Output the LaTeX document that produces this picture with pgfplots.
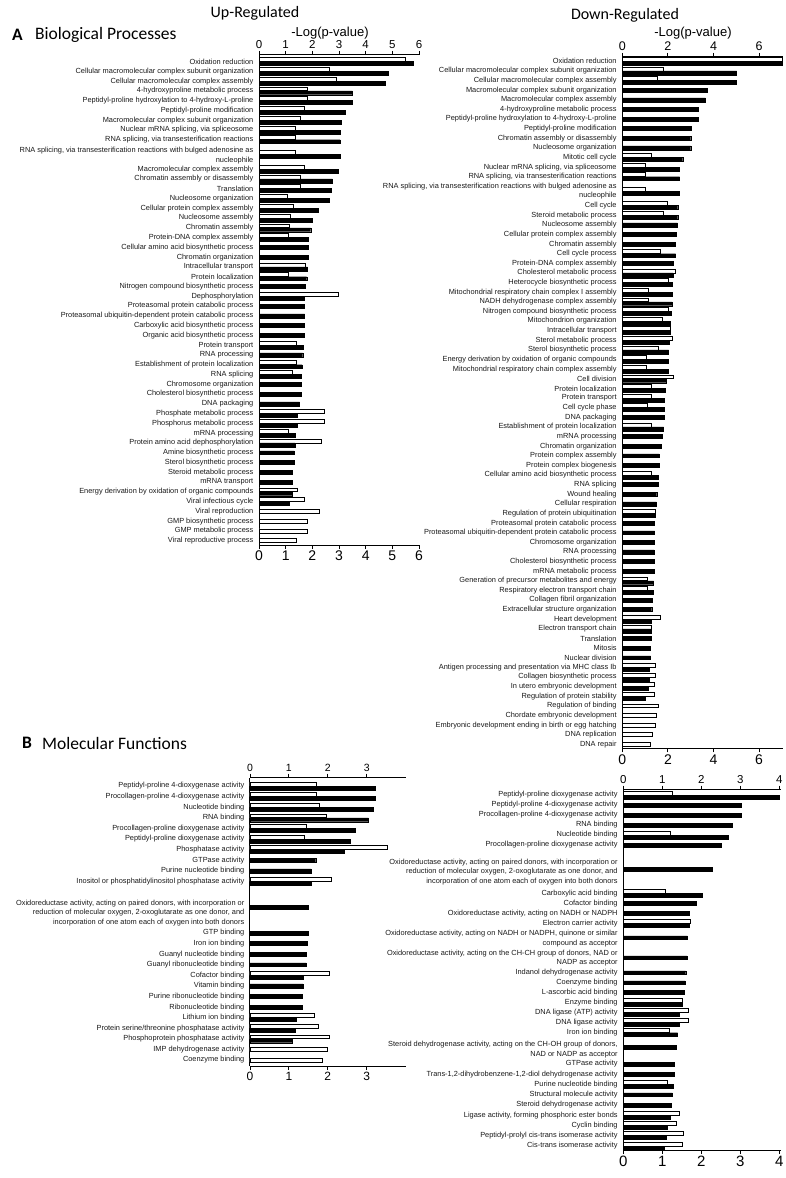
\documentclass[border=0pt]{standalone}
\usepackage{fontspec}
\setmainfont{Liberation Sans}
\newfontfamily\calibri{Carlito}
\usepackage{pgfplots}
\pgfplotsset{compat=1.18}
\pgfplotsset{
  go/.style={scale only axis, clip=false, axis x line*=bottom, axis y line*=left,
    tick align=outside, major tick length=4pt, ytick style={draw=none},
    axis line style={line width=1pt, black}, x tick style={line width=0.9pt, black},
    /pgf/number format/assume math mode=true,
    yticklabel style={font=\fontsize{7.4}{9.4}\selectfont, align=right, text=black!90, inner sep=0pt, xshift=-1.5pt},
    xticklabel style={inner sep=2pt}},
  gotop/.style={scale only axis, axis x line*=top, axis y line=none,
    tick align=outside, major tick length=4pt, ytick=\empty,
    axis line style={line width=1pt, black}, x tick style={line width=0.9pt, black},
    /pgf/number format/assume math mode=true, xticklabel style={inner sep=2pt}},
  wp/.style={xbar, bar width=3.9, bar shift=1.95, fill=white, draw=black, line width=0.7pt},
  bp/.style={xbar, bar width=3.9, bar shift=-1.95, fill=black, draw=black, line width=0.4pt},
  wo/.style={xbar, bar width=3.9, bar shift=0, fill=white, draw=black, line width=0.7pt},
  bo/.style={xbar, bar width=3.9, bar shift=0, fill=black, draw=black, line width=0.4pt},
}
\begin{document}
\begin{tikzpicture}
\path[use as bounding box] (0,0) rectangle (786pt,-1178pt);
% ---------- titles
\node[font=\calibri\fontsize{16}{16}\selectfont] at (255pt,-13pt) {Up-Regulated};
\node[font=\fontsize{13}{13}\selectfont] at (330pt,-33pt) {-Log(p-value)};
\node[font=\calibri\bfseries\fontsize{17.5}{17.5}\selectfont, anchor=west, inner sep=0pt] at (12pt,-35pt) {A};
\node[font=\calibri\fontsize{17.5}{17.5}\selectfont, anchor=west, inner sep=0pt] at (35pt,-35pt) {Biological Processes};
\node[font=\calibri\fontsize{16}{16}\selectfont] at (625pt,-15pt) {Down-Regulated};
\node[font=\fontsize{13}{13}\selectfont] at (693pt,-33pt) {-Log(p-value)};
\node[font=\calibri\bfseries\fontsize{17.5}{17.5}\selectfont, anchor=west, inner sep=0pt] at (22pt,-743pt) {B};
\node[font=\calibri\fontsize{17.5}{17.5}\selectfont, anchor=west, inner sep=0pt] at (42pt,-743pt) {Molecular Functions};

% ---------- A up
\begin{axis}[go, width=160pt, height=490pt, at={(259pt,-55pt)}, anchor=north west,
  xmin=0, xmax=6, ymin=-545, ymax=-55, xtick={0,...,6},
  xticklabel style={font=\fontsize{14}{14}\selectfont},
  ytick={-61.5,-71.3,-81.1,-90.8,-100.6,-110.4,-120.2,-130,-139.7,-155.5,-169.1,-178.9,-188.6,-198.4,-208.2,-218,-227.8,-237.5,-247.3,-257.1,-266.9,-276.7,-286.4,-296.2,-306,-315.8,-325.6,-335.3,-345.1,-354.9,-364.7,-374.5,-384.2,-394,-403.8,-413.6,-423.4,-433.1,-442.9,-452.7,-462.5,-472.3,-482,-491.8,-501.6,-511.4,-521.2,-530.9,-540.7},
  yticklabels={{Oxidation reduction},{Cellular macromolecular complex subunit organization},{Cellular macromolecular complex assembly},{4-hydroxyproline metabolic process},{Peptidyl-proline hydroxylation to 4-hydroxy-L-proline},{Peptidyl-proline modification},{Macromolecular complex subunit organization},{Nuclear mRNA splicing, via spliceosome},{RNA splicing, via transesterification reactions},{RNA splicing, via transesterification reactions with bulged adenosine as\\nucleophile},{Macromolecular complex assembly},{Chromatin assembly or disassembly},{Translation},{Nucleosome organization},{Cellular protein complex assembly},{Nucleosome assembly},{Chromatin assembly},{Protein-DNA complex assembly},{Cellular amino acid biosynthetic process},{Chromatin organization},{Intracellular transport},{Protein localization},{Nitrogen compound biosynthetic process},{Dephosphorylation},{Proteasomal protein catabolic process},{Proteasomal ubiquitin-dependent protein catabolic process},{Carboxylic acid biosynthetic process},{Organic acid biosynthetic process},{Protein transport},{RNA processing},{Establishment of protein localization},{RNA splicing},{Chromosome organization},{Cholesterol biosynthetic process},{DNA packaging},{Phosphate metabolic process},{Phosphorus metabolic process},{mRNA processing},{Protein amino acid dephosphorylation},{Amine biosynthetic process},{Sterol biosynthetic process},{Steroid metabolic process},{mRNA transport},{Energy derivation by oxidation of organic compounds},{Viral infectious cycle},{Viral reproduction},{GMP biosynthetic process},{GMP metabolic process},{Viral reproductive process}}]
\addplot[wp] coordinates {(5.5,-61.5) (2.65,-71.3) (2.9,-81.1) (1.8,-90.8) (1.8,-100.6) (1.7,-110.4) (1.56,-120.2) (1.36,-130) (1.36,-139.7) (1.36,-154.4) (1.7,-169.1) (1.56,-178.9) (1.56,-188.6) (1.06,-198.4) (1.3,-208.2) (1.16,-218) (1.14,-227.8) (1.1,-237.5) (1.74,-266.9) (1.1,-276.7) (2.97,-296.2) (1.41,-345.1) (1.39,-364.7) (1.24,-374.5) (2.45,-413.6) (2.45,-423.4) (1.09,-433.1) (2.32,-442.9) (1.42,-491.8) (1.7,-501.6)};
\addplot[bp] coordinates {(5.8,-61.5) (4.85,-71.3) (4.72,-81.1) (3.5,-90.8) (3.5,-100.6) (3.24,-110.4) (3.1,-120.2) (3.04,-130) (3.04,-139.7) (3.04,-154.4) (2.98,-169.1) (2.75,-178.9) (2.7,-188.6) (2.62,-198.4) (2.22,-208.2) (2.0,-218) (1.94,-227.8) (1.86,-237.5) (1.81,-266.9) (1.79,-276.7) (1.71,-296.2) (1.67,-345.1) (1.62,-364.7) (1.6,-374.5) (1.44,-413.6) (1.44,-423.4) (1.35,-433.1) (1.35,-442.9) (1.24,-491.8) (1.15,-501.6)};
\addplot[bo] coordinates {(1.85,-247.3) (1.85,-257.1) (1.75,-286.4) (1.71,-306) (1.71,-315.8) (1.69,-325.6) (1.69,-335.3) (1.64,-354.9) (1.59,-384.2) (1.57,-394) (1.52,-403.8) (1.32,-452.7) (1.32,-462.5) (1.26,-472.3) (1.25,-482)};
\addplot[wo] coordinates {(2.25,-511.4) (1.82,-521.2) (1.82,-530.9) (1.4,-540.7)};
\end{axis}
\begin{axis}[gotop, width=160pt, height=490pt, at={(259pt,-55pt)}, anchor=north west,
  xmin=0, xmax=6, ymin=-545, ymax=-55, xtick={0,...,6},
  xticklabel style={font=\fontsize{11.5}{11.5}\selectfont}]
\addplot[draw=none] coordinates {(0,-100)};
\end{axis}

% ---------- A down
\begin{axis}[go, width=160.3pt, height=691.3pt, at={(622.3pt,-57pt)}, anchor=north west,
  xmin=0, xmax=7.03, ymin=-748.3, ymax=-57, xtick={0,2,4,6},
  xticklabel style={font=\fontsize{14}{14}\selectfont},
  ytick={-61.3,-70.9,-80.5,-90.2,-99.8,-109.4,-119,-128.6,-138.3,-147.9,-157.5,-167.1,-176.7,-191.2,-205.6,-215.2,-224.8,-234.5,-244.1,-253.7,-263.3,-272.9,-282.6,-292.2,-301.8,-311.4,-321,-330.7,-340.3,-349.9,-359.5,-369.1,-378.8,-388.4,-398,-407.6,-417.2,-426.9,-436.5,-446.1,-455.7,-465.3,-475,-484.6,-494.2,-503.8,-513.4,-523.1,-532.7,-542.3,-551.9,-561.5,-571.2,-580.8,-590.4,-600,-609.6,-619.3,-628.9,-638.5,-648.1,-657.7,-667.4,-677,-686.6,-696.2,-705.8,-715.5,-725.1,-734.7,-744.3},
  yticklabels={{Oxidation reduction},{Cellular macromolecular complex subunit organization},{Cellular macromolecular complex assembly},{Macromolecular complex subunit organization},{Macromolecular complex assembly},{4-hydroxyproline metabolic process},{Peptidyl-proline hydroxylation to 4-hydroxy-L-proline},{Peptidyl-proline modification},{Chromatin assembly or disassembly},{Nucleosome organization},{Mitotic cell cycle},{Nuclear mRNA splicing, via spliceosome},{RNA splicing, via transesterification reactions},{RNA splicing, via transesterification reactions with bulged adenosine as\\nucleophile},{Cell cycle},{Steroid metabolic process},{Nucleosome assembly},{Cellular protein complex assembly},{Chromatin assembly},{Cell cycle process},{Protein-DNA complex assembly},{Cholesterol metabolic process},{Heterocycle biosynthetic process},{Mitochondrial respiratory chain complex I assembly},{NADH dehydrogenase complex assembly},{Nitrogen compound biosynthetic process},{Mitochondrion organization},{Intracellular transport},{Sterol metabolic process},{Sterol biosynthetic process},{Energy derivation by oxidation of organic compounds},{Mitochondrial respiratory chain complex assembly},{Cell division},{Protein localization},{Protein transport},{Cell cycle phase},{DNA packaging},{Establishment of protein localization},{mRNA processing},{Chromatin organization},{Protein complex assembly},{Protein complex biogenesis},{Cellular amino acid biosynthetic process},{RNA splicing},{Wound healing},{Cellular respiration},{Regulation of protein ubiquitination},{Proteasomal protein catabolic process},{Proteasomal ubiquitin-dependent protein catabolic process},{Chromosome organization},{RNA processing},{Cholesterol biosynthetic process},{mRNA metabolic process},{Generation of precursor metabolites and energy},{Respiratory electron transport chain},{Collagen fibril organization},{Extracellular structure organization},{Heart development},{Electron transport chain},{Translation},{Mitosis},{Nuclear division},{Antigen processing and presentation via MHC class Ib},{Collagen biosynthetic process},{In utero embryonic development},{Regulation of protein stability},{Regulation of binding},{Chordate embryonic development},{Embryonic development ending in birth or egg hatching},{DNA replication},{DNA repair}}]
\addplot[wp] coordinates {(7.0,-61.3) (1.8,-70.9) (1.54,-80.5) (1.27,-157.5) (0.99,-167.1) (1.0,-176.7) (1.0,-191.2) (1.97,-205.6) (1.8,-215.2) (1.67,-253.7) (2.34,-272.9) (2.03,-282.6) (1.14,-292.2) (1.14,-301.8) (2.02,-311.4) (1.74,-321) (2.09,-330.7) (2.19,-340.3) (1.58,-349.9) (1.05,-359.5) (1.07,-369.1) (2.24,-378.8) (1.26,-388.4) (1.29,-398) (1.08,-407.6) (1.29,-426.9) (1.27,-475) (1.43,-513.4) (1.1,-580.8) (1.1,-590.4) (1.68,-619.3) (1.29,-628.9) (1.43,-667.4) (1.43,-677) (1.39,-686.6) (1.42,-696.2)};
\addplot[bp] coordinates {(7.0,-61.3) (5.01,-70.9) (4.99,-80.5) (2.65,-157.5) (2.51,-167.1) (2.51,-176.7) (2.51,-191.2) (2.43,-205.6) (2.43,-215.2) (2.34,-253.7) (2.22,-272.9) (2.21,-282.6) (2.19,-292.2) (2.19,-301.8) (2.13,-311.4) (2.12,-321) (2.1,-330.7) (2.06,-340.3) (2.03,-349.9) (2.03,-359.5) (2.02,-369.1) (1.94,-378.8) (1.89,-388.4) (1.84,-398) (1.84,-407.6) (1.81,-426.9) (1.59,-475) (1.45,-513.4) (1.37,-580.8) (1.35,-590.4) (1.27,-619.3) (1.26,-628.9) (1.2,-667.4) (1.2,-677) (1.15,-686.6) (1.0,-696.2)};
\addplot[bo] coordinates {(3.71,-90.2) (3.64,-99.8) (3.33,-109.4) (3.33,-119) (3.04,-128.6) (3.0,-138.3) (3.0,-147.9) (2.41,-224.8) (2.38,-234.5) (2.34,-244.1) (2.25,-263.3) (1.83,-417.2) (1.73,-436.5) (1.7,-446.1) (1.62,-455.7) (1.62,-465.3) (1.58,-484.6) (1.51,-494.2) (1.49,-503.8) (1.42,-523.1) (1.42,-532.7) (1.4,-542.3) (1.4,-551.9) (1.39,-561.5) (1.39,-571.2) (1.3,-600) (1.29,-609.6) (1.26,-638.5) (1.24,-648.1) (1.24,-657.7)};
\addplot[wo] coordinates {(1.58,-705.8) (1.48,-715.5) (1.45,-725.1) (1.3,-734.7) (1.24,-744.3)};
\end{axis}
\begin{axis}[gotop, width=160.3pt, height=691.3pt, at={(622.3pt,-57pt)}, anchor=north west,
  xmin=0, xmax=7.03, ymin=-748.3, ymax=-57, xtick={0,2,4,6},
  xticklabel style={font=\fontsize{12.5}{12.5}\selectfont}]
\addplot[draw=none] coordinates {(0,-100)};
\end{axis}

% ---------- B up
\begin{axis}[go, width=155.6pt, height=288.5pt, at={(250pt,-777.5pt)}, anchor=north west,
  xmin=0, xmax=4, ymin=-1066, ymax=-777.5, xtick={0,1,2,3},
  xticklabel style={font=\fontsize{12}{12}\selectfont},
  ytick={-786,-796.6,-807.2,-817.8,-828.4,-839,-849.6,-860.2,-870.8,-881.4,-912.7,-933,-943.6,-954.2,-964.7,-975.3,-985.9,-996.5,-1007.1,-1017.6,-1028.2,-1038.8,-1049.4,-1060},
  yticklabels={{Peptidyl-proline 4-dioxygenase activity},{Procollagen-proline 4-dioxygenase activity},{Nucleotide binding},{RNA binding},{Procollagen-proline dioxygenase activity},{Peptidyl-proline dioxygenase activity},{Phosphatase activity},{GTPase activity},{Purine nucleotide binding},{Inositol or phosphatidylinositol phosphatase activity},{Oxidoreductase activity, acting on paired donors, with incorporation or\\reduction of molecular oxygen, 2-oxoglutarate as one donor, and\\incorporation of one atom each of oxygen into both donors},{GTP binding},{Iron ion binding},{Guanyl nucleotide binding},{Guanyl ribonucleotide binding},{Cofactor binding},{Vitamin binding},{Purine ribonucleotide binding},{Ribonucleotide binding},{Lithium ion binding},{Protein serine/threonine phosphatase activity},{Phosphoprotein phosphatase activity},{IMP dehydrogenase activity},{Coenzyme binding}}]
\addplot[wp] coordinates {(1.7,-786) (1.7,-796.6) (1.77,-807.2) (1.95,-817.8) (1.44,-828.4) (1.39,-839) (3.54,-849.6) (2.1,-881.4) (2.03,-975.3) (1.65,-1017.6) (1.75,-1028.2) (2.03,-1038.8)};
\addplot[bp] coordinates {(3.23,-786) (3.23,-796.6) (3.17,-807.2) (3.04,-817.8) (2.7,-828.4) (2.57,-839) (2.43,-849.6) (1.57,-881.4) (1.36,-975.3) (1.2,-1017.6) (1.16,-1028.2) (1.08,-1038.8)};
\addplot[bo] coordinates {(1.69,-860.2) (1.57,-870.8) (1.5,-907) (1.49,-933) (1.47,-943.6) (1.44,-954.2) (1.44,-964.7) (1.36,-985.9) (1.34,-996.5) (1.34,-1007.1)};
\addplot[wo] coordinates {(2.0,-1049.4) (1.85,-1060)};
\end{axis}
\begin{axis}[gotop, width=155.6pt, height=288.5pt, at={(250pt,-777.5pt)}, anchor=north west,
  xmin=0, xmax=4, ymin=-1066, ymax=-777.5, xtick={0,1,2,3},
  xticklabel style={font=\fontsize{10.5}{10.5}\selectfont}]
\addplot[draw=none] coordinates {(0,-800)};
\end{axis}

% ---------- B down
\begin{axis}[go, width=157.95pt, height=360.5pt, at={(623.3pt,-789.5pt)}, anchor=north west,
  xmin=0, xmax=4.05, ymin=-1150, ymax=-789.5, xtick={0,...,4},
  xticklabel style={font=\fontsize{15}{15}\selectfont},
  ytick={-795,-805,-815,-825,-835,-845,-871.7,-893.3,-903.3,-913.3,-923.5,-938.7,-958.3,-972.7,-982.7,-992.5,-1002.7,-1012.7,-1022.7,-1032.7,-1049.5,-1064,-1074.2,-1084.5,-1094.7,-1105,-1115.2,-1125.5,-1135.7,-1146},
  yticklabels={{Peptidyl-proline dioxygenase activity},{Peptidyl-proline 4-dioxygenase activity},{Procollagen-proline 4-dioxygenase activity},{RNA binding},{Nucleotide binding},{Procollagen-proline dioxygenase activity},{Oxidoreductase activity, acting on paired donors, with incorporation or\\reduction of molecular oxygen, 2-oxoglutarate as one donor, and\\incorporation of one atom each of oxygen into both donors},{Carboxylic acid binding},{Cofactor binding},{Oxidoreductase activity, acting on NADH or NADPH},{Electron carrier activity},{Oxidoreductase activity, acting on NADH or NADPH, quinone or similar\\compound as acceptor},{Oxidoreductase activity, acting on the CH-CH group of donors, NAD or\\NADP as acceptor},{Indanol dehydrogenase activity},{Coenzyme binding},{L-ascorbic acid binding},{Enzyme binding},{DNA ligase (ATP) activity},{DNA ligase activity},{Iron ion binding},{Steroid dehydrogenase activity, acting on the CH-OH group of donors,\\NAD or NADP as acceptor},{GTPase activity},{Trans-1,2-dihydrobenzene-1,2-diol dehydrogenase activity},{Purine nucleotide binding},{Structural molecule activity},{Steroid dehydrogenase activity},{Ligase activity, forming phosphoric ester bonds},{Cyclin binding},{Peptidyl-prolyl cis-trans isomerase activity},{Cis-trans isomerase activity}}]
\addplot[wp] coordinates {(1.26,-795) (1.21,-835) (1.09,-893.3) (1.71,-923.5) (1.51,-1002.7) (1.67,-1012.7) (1.67,-1022.7) (1.18,-1032.7) (1.13,-1084.5) (1.44,-1115.2) (1.37,-1125.5) (1.54,-1135.7) (1.51,-1146)};
\addplot[bp] coordinates {(4.0,-795) (2.69,-835) (2.03,-893.3) (1.68,-923.5) (1.5,-1002.7) (1.43,-1012.7) (1.43,-1022.7) (1.39,-1032.7) (1.28,-1084.5) (1.2,-1115.2) (1.13,-1125.5) (1.09,-1135.7) (1.05,-1146)};
\addplot[bo] coordinates {(3.03,-805) (3.03,-815) (2.79,-825) (2.5,-845) (2.29,-869.3) (1.88,-903.3) (1.69,-913.3) (1.64,-937.7) (1.63,-957.7) (1.6,-972.7) (1.58,-982.7) (1.55,-992.5) (1.35,-1047.3) (1.31,-1064) (1.31,-1074.2) (1.26,-1094.7) (1.24,-1105)};
\end{axis}
\begin{axis}[gotop, width=157.95pt, height=360.5pt, at={(623.3pt,-789.5pt)}, anchor=north west,
  xmin=0, xmax=4.05, ymin=-1150, ymax=-789.5, xtick={0,...,4},
  xticklabel style={font=\fontsize{11.5}{11.5}\selectfont}]
\addplot[draw=none] coordinates {(0,-800)};
\end{axis}
\end{tikzpicture}
\end{document}
